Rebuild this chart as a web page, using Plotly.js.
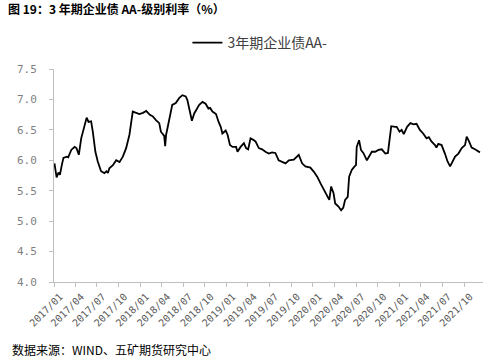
<!DOCTYPE html>
<html>
<head>
<meta charset="utf-8">
<script src="https://cdn.plot.ly/plotly-3.0.1.min.js"></script>
<style>html,body{margin:0;padding:0;background:#fff}#chart{width:500px;height:363px}</style>
</head>
<body>
<div id="chart"></div>
<script>
const seriesName = '3年期企业债AA-';
const dates = [
'2017-01-03','2017-01-09','2017-01-12','2017-01-20','2017-01-26','2017-02-03','2017-02-10','2017-02-24','2017-03-02','2017-03-15',
'2017-03-29','2017-04-06','2017-04-16','2017-04-26','2017-05-10','2017-05-19','2017-05-27','2017-06-07','2017-06-14','2017-06-25',
'2017-07-05','2017-07-19','2017-08-02','2017-08-11','2017-08-17','2017-08-23','2017-09-07','2017-09-21','2017-10-05','2017-10-19',
'2017-11-02','2017-11-16','2017-11-30','2017-12-14','2017-12-28','2018-01-12','2018-01-26','2018-02-09','2018-02-23','2018-03-08',
'2018-03-22','2018-03-29','2018-04-06','2018-04-12','2018-04-16','2018-04-20','2018-04-26','2018-05-10','2018-05-16','2018-05-31',
'2018-06-14','2018-06-28','2018-07-12','2018-07-19','2018-07-26','2018-08-07','2018-08-17','2018-08-26','2018-09-07','2018-09-21',
'2018-10-04','2018-10-16','2018-10-23','2018-11-02','2018-11-17','2018-11-28','2018-12-07','2018-12-14','2018-12-28','2019-01-05',
'2019-01-15','2019-01-26','2019-02-10','2019-02-16','2019-03-01','2019-03-15','2019-03-24','2019-04-02','2019-04-12','2019-04-22',
'2019-05-03','2019-05-17','2019-05-31','2019-06-14','2019-06-28','2019-07-12','2019-07-26','2019-08-09','2019-08-23','2019-09-07',
'2019-09-21','2019-10-12','2019-11-02','2019-11-16','2019-11-30','2019-12-21','2020-01-05','2020-01-19','2020-02-02','2020-02-16',
'2020-03-01','2020-03-10','2020-03-18','2020-03-28','2020-04-04','2020-04-18','2020-04-29','2020-05-08','2020-05-16','2020-05-27',
'2020-06-02','2020-06-13','2020-06-25','2020-07-01','2020-07-04','2020-07-14','2020-07-22','2020-08-01','2020-08-16','2020-08-23',
'2020-09-06','2020-09-20','2020-10-04','2020-10-18','2020-11-02','2020-11-13','2020-11-23','2020-11-27','2020-12-14','2020-12-20',
'2021-01-01','2021-01-10','2021-01-19','2021-02-02','2021-02-16','2021-03-01','2021-03-14','2021-03-28','2021-04-11','2021-04-25',
'2021-05-05','2021-05-16','2021-05-31','2021-06-06','2021-06-14','2021-06-28','2021-07-12','2021-07-23','2021-08-03','2021-08-12',
'2021-08-24','2021-09-07','2021-09-21','2021-10-05','2021-10-12','2021-10-22','2021-11-02','2021-11-16','2021-11-26','2021-12-07'
];
const rates = [
5.95,5.80,5.72,5.80,5.76,5.92,6.04,6.06,6.05,6.17,
6.22,6.20,6.09,6.36,6.58,6.70,6.63,6.64,6.47,6.14,
5.98,5.82,5.79,5.82,5.79,5.87,5.92,6.00,5.97,6.06,
6.20,6.42,6.80,6.78,6.76,6.78,6.81,6.75,6.72,6.66,
6.61,6.47,6.42,6.40,6.23,6.42,6.53,6.77,6.91,6.94,
7.02,7.07,7.05,6.99,6.88,6.65,6.77,6.83,6.91,6.96,
6.93,6.85,6.86,6.80,6.76,6.63,6.55,6.44,6.49,6.42,
6.25,6.22,6.22,6.14,6.22,6.28,6.20,6.18,6.36,6.34,
6.31,6.20,6.18,6.14,6.11,6.13,6.12,6.00,5.98,5.95,
6.00,6.01,6.09,5.95,5.90,5.88,5.81,5.73,5.62,5.51,
5.40,5.35,5.57,5.46,5.29,5.24,5.18,5.22,5.35,5.40,
5.73,5.84,5.90,5.92,6.22,6.33,6.17,6.12,6.00,6.05,
6.14,6.14,6.17,6.18,6.11,6.12,6.50,6.56,6.55,6.55,
6.47,6.50,6.43,6.55,6.61,6.59,6.60,6.50,6.44,6.36,
6.38,6.31,6.25,6.21,6.27,6.25,6.11,5.98,5.90,5.98,
6.06,6.11,6.20,6.25,6.39,6.31,6.21,6.18,6.16,6.13
];
const tickDates = ['2017-01-01','2017-04-01','2017-07-01','2017-10-01','2018-01-01','2018-04-01','2018-07-01','2018-10-01',
'2019-01-01','2019-04-01','2019-07-01','2019-10-01','2020-01-01','2020-04-01','2020-07-01','2020-10-01',
'2021-01-01','2021-04-01','2021-07-01','2021-10-01'];
const tickLabels = ['2017/01','2017/04','2017/07','2017/10','2018/01','2018/04','2018/07','2018/10',
'2019/01','2019/04','2019/07','2019/10','2020/01','2020/04','2020/07','2020/10',
'2021/01','2021/04','2021/07','2021/10'];
const yTicks = [4.0,4.5,5.0,5.5,6.0,6.5,7.0,7.5];

const cjk = '"Noto Sans CJK SC", "Noto Sans", sans-serif';
const mono = '"DejaVu Sans Mono", "Liberation Mono", monospace';
const trace = {
  x: dates, y: rates, type: 'scatter', mode: 'lines', name: seriesName,
  line: {color: '#000000', width: 1.8}
};
const layout = {
  width: 500, height: 363,
  margin: {l: 54, r: 17, t: 69, b: 81},
  paper_bgcolor: '#ffffff', plot_bgcolor: '#ffffff',
  font: {family: cjk, color: '#595959', size: 11},
  title: {text: '<b>图 19：3 年期企业债 AA-级别利率（%）</b>', x: 0.016, xanchor: 'left', xref: 'container',
          y: 0.972, yanchor: 'middle', yref: 'container', font: {family: cjk, size: 12, color: '#000000'}},
  showlegend: true,
  legend: {orientation: 'h', x: 0.48, xanchor: 'center', y: 1.122, yanchor: 'middle',
           font: {family: cjk, size: 14, color: '#404040'}, bgcolor: 'rgba(0,0,0,0)'},
  xaxis: {
    type: 'date', range: ['2017-01-01', '2021-12-20'],
    tickmode: 'array', tickvals: tickDates, ticktext: tickLabels, tickangle: -45,
    ticklabelshift: 6,
    showgrid: false, zeroline: false, showline: true, linecolor: '#bfbfbf', linewidth: 1,
    ticks: 'outside', ticklen: 4, tickcolor: '#bfbfbf',
    tickfont: {family: mono, size: 10, color: '#595959'}
  },
  yaxis: {
    range: [4.0, 7.5], tickmode: 'array', tickvals: yTicks, tickformat: '.1f',
    ticklabelstandoff: 10,
    showgrid: false, zeroline: false, showline: true, linecolor: '#bfbfbf', linewidth: 1,
    ticks: 'outside', ticklen: 4, tickcolor: '#bfbfbf',
    tickfont: {family: mono, size: 11, color: '#7f7f7f'}
  },
  annotations: [{
    text: '数据来源：WIND、五矿期货研究中心', xref: 'paper', yref: 'paper',
    x: -0.1026, y: -0.319, xanchor: 'left', yanchor: 'middle', showarrow: false,
    font: {family: cjk, size: 12, color: '#000000'}
  }]
};
Plotly.newPlot('chart', [trace], layout, {displayModeBar: false, staticPlot: true});
</script>
</body>
</html>
